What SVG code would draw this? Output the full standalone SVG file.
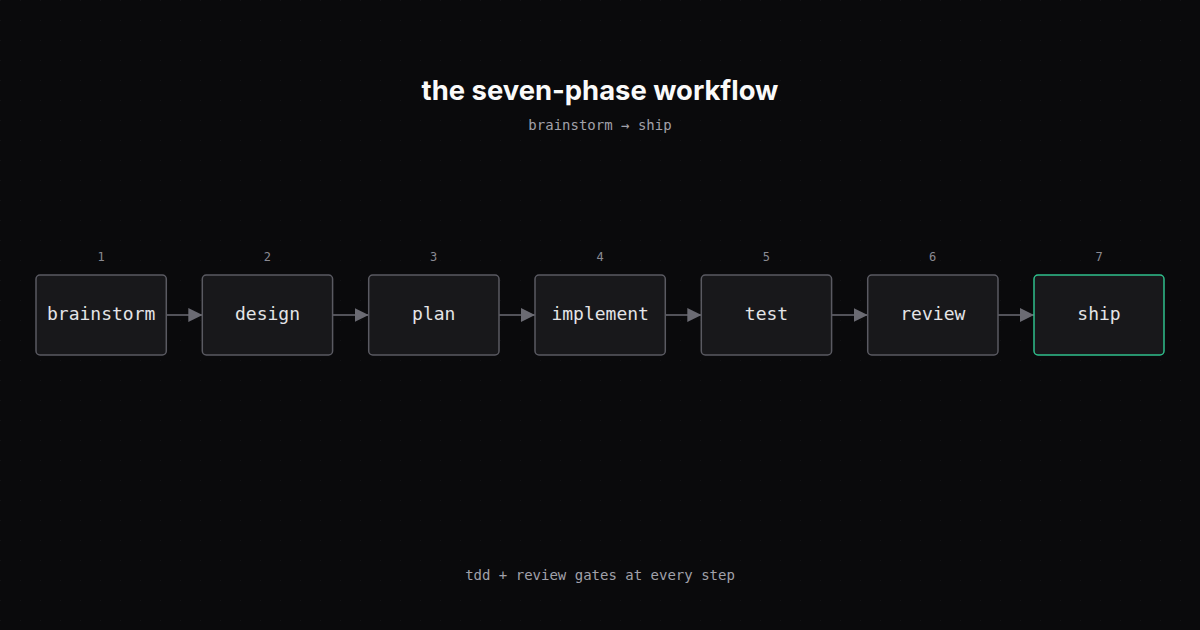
<svg xmlns="http://www.w3.org/2000/svg" width="1200" height="630" viewBox="0 0 1200 630">
<defs>
<pattern id="dots" x="0" y="0" width="20" height="20" patternUnits="userSpaceOnUse">
<circle cx="0" cy="0" r="0.8" fill="#1c1c21"/>
</pattern>
<marker id="arr" viewBox="0 0 14 14" refX="14" refY="7" markerWidth="14" markerHeight="14" markerUnits="userSpaceOnUse" orient="auto">
<path d="M0,0 L14,7 L0,14 Z" fill="#6b6b73"/>
</marker>
<style>
.box{fill:#18181b;stroke:#5a5a62;stroke-width:1.5}
.ship{fill:#18181b;stroke:#2fbf8c;stroke-width:1.5}
.lbl{font-family:"DejaVu Sans Mono",monospace;font-size:18px;fill:#e4e4e7;text-anchor:middle}
.num{font-family:"DejaVu Sans Mono",monospace;font-size:12px;fill:#8a8a93;text-anchor:middle}
.sub{font-family:"DejaVu Sans Mono",monospace;font-size:14px;fill:#a1a1aa;text-anchor:middle}
.conn{stroke:#6b6b73;stroke-width:1.5;fill:none}
</style>
</defs>
<rect width="1200" height="630" fill="#0a0a0c"/>
<rect width="1200" height="630" fill="url(#dots)"/>
<text x="600" y="100" text-anchor="middle" font-family="Inter, 'Noto Sans', sans-serif" font-weight="700" font-size="27.4" fill="#fafafa">the seven-phase workflow</text>
<text class="sub" x="600" y="130">brainstorm → ship</text>
<g id="connectors">
<line class="conn" x1="166.3" y1="315" x2="202.3" y2="315" marker-end="url(#arr)"/>
<line class="conn" x1="332.7" y1="315" x2="368.7" y2="315" marker-end="url(#arr)"/>
<line class="conn" x1="499" y1="315" x2="535" y2="315" marker-end="url(#arr)"/>
<line class="conn" x1="665.3" y1="315" x2="701.3" y2="315" marker-end="url(#arr)"/>
<line class="conn" x1="831.7" y1="315" x2="867.7" y2="315" marker-end="url(#arr)"/>
<line class="conn" x1="998" y1="315" x2="1034" y2="315" marker-end="url(#arr)"/>
</g>
<g id="n1"><text class="num" x="101" y="261">1</text><rect class="box" x="36" y="275" width="130.3" height="80" rx="4"/><text class="lbl" x="101.2" y="320">brainstorm</text></g>
<g id="n2"><text class="num" x="267.3" y="261">2</text><rect class="box" x="202.3" y="275" width="130.3" height="80" rx="4"/><text class="lbl" x="267.5" y="320">design</text></g>
<g id="n3"><text class="num" x="433.7" y="261">3</text><rect class="box" x="368.7" y="275" width="130.3" height="80" rx="4"/><text class="lbl" x="433.8" y="320">plan</text></g>
<g id="n4"><text class="num" x="600" y="261">4</text><rect class="box" x="535" y="275" width="130.3" height="80" rx="4"/><text class="lbl" x="600.2" y="320">implement</text></g>
<g id="n5"><text class="num" x="766.3" y="261">5</text><rect class="box" x="701.3" y="275" width="130.3" height="80" rx="4"/><text class="lbl" x="766.5" y="320">test</text></g>
<g id="n6"><text class="num" x="932.7" y="261">6</text><rect class="box" x="867.7" y="275" width="130.3" height="80" rx="4"/><text class="lbl" x="932.8" y="320">review</text></g>
<g id="n7"><text class="num" x="1099" y="261">7</text><rect class="ship" x="1034" y="275" width="130" height="80" rx="4"/><text class="lbl" x="1099" y="320">ship</text></g>
<text class="sub" x="600" y="580">tdd + review gates at every step</text>
</svg>
